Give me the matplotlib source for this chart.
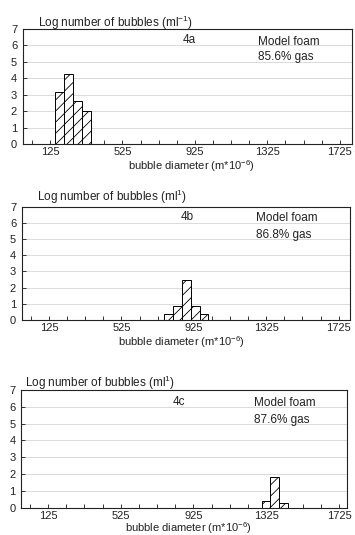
import matplotlib
matplotlib.use("Agg")
import matplotlib.pyplot as plt
from matplotlib.ticker import FixedLocator, NullFormatter

plt.rcParams['font.family'] = ['Liberation Sans', 'DejaVu Sans']
plt.rcParams['mathtext.fontset'] = 'custom'
plt.rcParams['mathtext.rm'] = 'Liberation Sans'
plt.rcParams['mathtext.it'] = 'Liberation Sans'
plt.rcParams['hatch.linewidth'] = 0.6

# ---- data ----
centers_a = [179, 227, 276, 325]
heights_a = [3.16, 4.28, 2.6, 1.98]
centers_b = [785, 835, 885, 934, 982]
heights_b = [0.35, 0.88, 2.45, 0.88, 0.35]
centers_c = [1324, 1372, 1421]
heights_c = [0.38, 1.8, 0.3]
bar_width = 48

panel_labels = ["4a", "4b", "4c"]
gas_labels = ["85.6% gas", "86.8% gas", "87.6% gas"]
title_labels = [r"Log number of bubbles (ml$^{-1}$)",
                r"Log number of bubbles (ml$^{1}$)",
                r"Log number of bubbles (ml$^{1}$)"]
xtick_major = [125, 525, 925, 1325, 1725]
xtick_minor = list(range(25, 1800, 100))
ytick_vals = [0, 1, 2, 3, 4, 5, 6, 7]

W, H = 355, 535
fig = plt.figure(figsize=(W / 100, H / 100), dpi=100)

def px(x0, y_top, x1, y_bot):
    return [x0 / W, 1 - y_bot / H, (x1 - x0) / W, (y_bot - y_top) / H]

panels = [
    dict(rect=px(22.7, 29, 351.5, 144), xlim=(-26, 1790), c=centers_a, h=heights_a,
         title=(38, 22.5), xlabel=(128, 166.5), lab=(183, 40), mf=(258, 42), gas=(258, 57)),
    dict(rect=px(21.7, 206.7, 350, 320), xlim=(-26, 1788), c=centers_b, h=heights_b,
         title=(36.7, 197), xlabel=(118, 342.5), lab=(181, 216.7), mf=(256, 217.7), gas=(256, 235)),
    dict(rect=px(21, 390, 347, 507.7), xlim=(-23, 1769), c=centers_c, h=heights_c,
         title=(25, 383), xlabel=(125, 528), lab=(173, 401.7), mf=(254, 402.7), gas=(254, 420)),
]

for i, p in enumerate(panels):
    ax = fig.add_axes(p['rect'])
    ax.set_xlim(*p['xlim'])
    ax.set_ylim(0, 7)
    for yv in ytick_vals[1:-1]:
        ax.axhline(yv, color='#d4d4d4', lw=0.6, zorder=0)
    ax.bar(p['c'], p['h'], width=bar_width, color='white', edgecolor='black',
           hatch='///', linewidth=0.7, zorder=2)
    ax.set_xticks(xtick_major)
    ax.set_xticklabels([str(v) for v in xtick_major])
    ax.xaxis.set_minor_locator(FixedLocator(xtick_minor))
    ax.xaxis.set_minor_formatter(NullFormatter())
    ax.set_yticks(ytick_vals)
    ax.tick_params(axis='both', which='both', direction='in', labelsize=8,
                   length=3, width=0.7, pad=2.5, color='#333333', labelcolor='#222222')
    ax.tick_params(axis='y', pad=4)
    for s in ax.spines.values():
        s.set_linewidth(0.8)
        s.set_color('#222222')
    fig.text(p['title'][0] / W, 1 - p['title'][1] / H, title_labels[i],
             ha='left', va='center', fontsize=8.5, color='#222222')
    fig.text(p['xlabel'][0] / W, 1 - p['xlabel'][1] / H,
             r"bubble diameter (m*10$^{-6}$)", ha='left', va='center',
             fontsize=8, color='#222222')
    fig.text(p['lab'][0] / W, 1 - p['lab'][1] / H, panel_labels[i],
             ha='left', va='center', fontsize=8.5, color='#222222')
    fig.text(p['mf'][0] / W, 1 - p['mf'][1] / H, "Model foam",
             ha='left', va='center', fontsize=8.5, color='#222222')
    fig.text(p['gas'][0] / W, 1 - p['gas'][1] / H, gas_labels[i],
             ha='left', va='center', fontsize=8.5, color='#222222')

fig.savefig("out.png", dpi=100, facecolor='white')
